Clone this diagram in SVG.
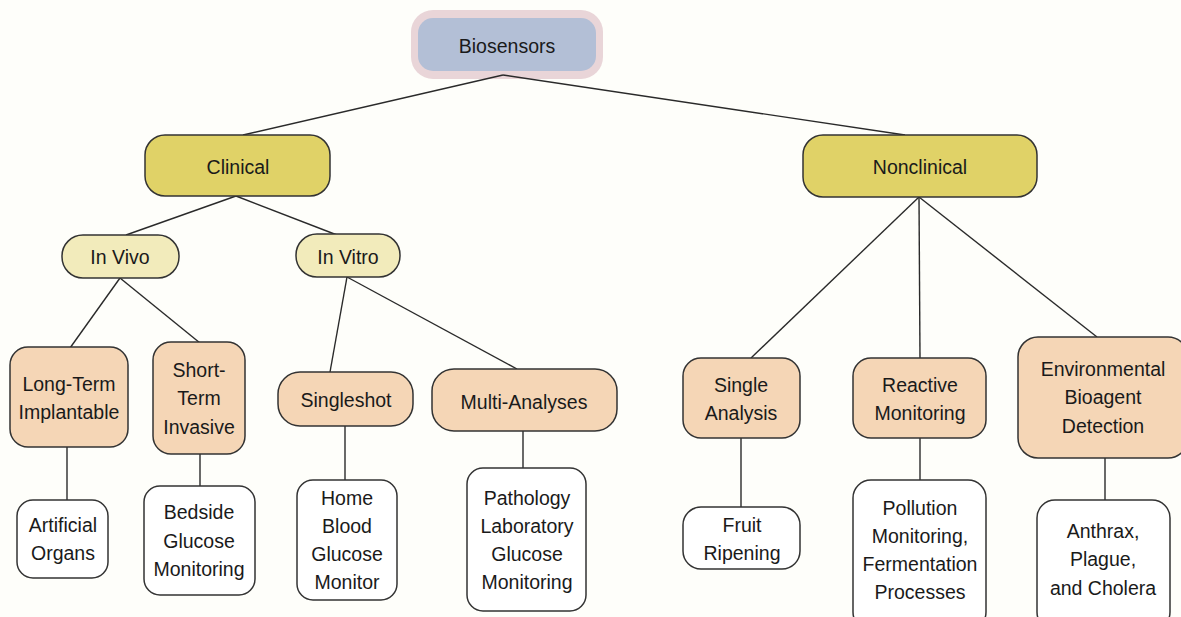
<svg xmlns="http://www.w3.org/2000/svg" width="1181" height="617" viewBox="0 0 1181 617">
<style>
text{font-family:"Liberation Sans",Arial,sans-serif;font-size:19.5px;fill:#1a1a1a;text-anchor:middle}
.n{stroke:#333;stroke-width:1.5}
.l1{fill:#e0d267}
.l2{fill:#f2ebbb}
.l3{fill:#f5d6b6}
.l4{fill:#ffffff}
#connectors line{stroke:#2a2a2a;stroke-width:1.4}
</style>
<rect width="1181" height="617" fill="#fefefa"/>
<g id="biosensors">
<rect x="411" y="10" width="192" height="69" rx="22" fill="#e9d5d8"/>
<rect x="418" y="18" width="178" height="53" rx="15" fill="#b3bfd6"/>
<text x="507" y="53">Biosensors</text>
</g>
<g id="connectors">
<line x1="503" y1="75" x2="243" y2="135"/>
<line x1="503" y1="75" x2="905" y2="135"/>
<line x1="236" y1="196" x2="126" y2="235"/>
<line x1="236" y1="196" x2="337" y2="235"/>
<line x1="120" y1="278" x2="70" y2="348"/>
<line x1="120" y1="278" x2="200" y2="343"/>
<line x1="347" y1="277" x2="330" y2="372"/>
<line x1="347" y1="277" x2="517" y2="369"/>
<line x1="67" y1="447" x2="67" y2="500"/>
<line x1="200" y1="454" x2="200" y2="486"/>
<line x1="345" y1="426" x2="345" y2="480"/>
<line x1="523" y1="431" x2="523" y2="468"/>
<line x1="919" y1="197" x2="751" y2="358"/>
<line x1="919" y1="197" x2="920" y2="358"/>
<line x1="919" y1="197" x2="1097" y2="337"/>
<line x1="741" y1="438" x2="741" y2="507"/>
<line x1="920" y1="438" x2="920" y2="480"/>
<line x1="1105" y1="458" x2="1105" y2="500"/>
</g>
<g id="clinical"><rect class="n l1" x="145" y="135" width="185" height="61" rx="20"/><text x="238" y="174">Clinical</text></g>
<g id="nonclinical"><rect class="n l1" x="803" y="135" width="234" height="62" rx="20"/><text x="920" y="174">Nonclinical</text></g>
<g id="invivo"><rect class="n l2" x="62" y="235" width="117" height="43" rx="21"/><text x="120" y="264">In Vivo</text></g>
<g id="invitro"><rect class="n l2" x="296" y="234" width="104" height="43" rx="21"/><text x="348" y="264">In Vitro</text></g>
<g id="longterm"><rect class="n l3" x="10" y="347" width="118" height="100" rx="18"/><text x="69" y="391">Long-Term</text><text x="69" y="419">Implantable</text></g>
<g id="shortterm"><rect class="n l3" x="153" y="342" width="92" height="112" rx="18"/><text x="199" y="377">Short-</text><text x="199" y="405">Term</text><text x="199" y="434">Invasive</text></g>
<g id="singleshot"><rect class="n l3" x="278" y="372" width="135" height="54" rx="22"/><text x="346" y="407">Singleshot</text></g>
<g id="multianalyses"><rect class="n l3" x="432" y="369" width="185" height="62" rx="22"/><text x="524" y="409">Multi-Analyses</text></g>
<g id="artificial"><rect class="n l4" x="17" y="500" width="91" height="78" rx="16"/><text x="63" y="532">Artificial</text><text x="63" y="560">Organs</text></g>
<g id="bedside"><rect class="n l4" x="144" y="486" width="111" height="109" rx="16"/><text x="199" y="519">Bedside</text><text x="199" y="548">Glucose</text><text x="199" y="576">Monitoring</text></g>
<g id="home"><rect class="n l4" x="297" y="480" width="100" height="120" rx="16"/><text x="347" y="505">Home</text><text x="347" y="533">Blood</text><text x="347" y="561">Glucose</text><text x="347" y="589">Monitor</text></g>
<g id="pathology"><rect class="n l4" x="467" y="468" width="119" height="143" rx="16"/><text x="527" y="505">Pathology</text><text x="527" y="533">Laboratory</text><text x="527" y="561">Glucose</text><text x="527" y="589">Monitoring</text></g>
<g id="singleanalysis"><rect class="n l3" x="683" y="358" width="117" height="80" rx="18"/><text x="741" y="392">Single</text><text x="741" y="420">Analysis</text></g>
<g id="reactive"><rect class="n l3" x="853" y="358" width="133" height="80" rx="18"/><text x="920" y="392">Reactive</text><text x="920" y="420">Monitoring</text></g>
<g id="environmental"><rect class="n l3" x="1018" y="337" width="170" height="121" rx="20"/><text x="1103" y="376">Environmental</text><text x="1103" y="404">Bioagent</text><text x="1103" y="433">Detection</text></g>
<g id="fruit"><rect class="n l4" x="683" y="507" width="117" height="62" rx="18"/><text x="742" y="532">Fruit</text><text x="742" y="560">Ripening</text></g>
<g id="pollution"><rect class="n l4" x="853" y="480" width="133" height="150" rx="18"/><text x="920" y="515">Pollution</text><text x="920" y="543">Monitoring,</text><text x="920" y="571">Fermentation</text><text x="920" y="599">Processes</text></g>
<g id="anthrax"><rect class="n l4" x="1037" y="500" width="133" height="130" rx="18"/><text x="1103" y="538">Anthrax,</text><text x="1103" y="566">Plague,</text><text x="1103" y="595">and Cholera</text></g>
</svg>
